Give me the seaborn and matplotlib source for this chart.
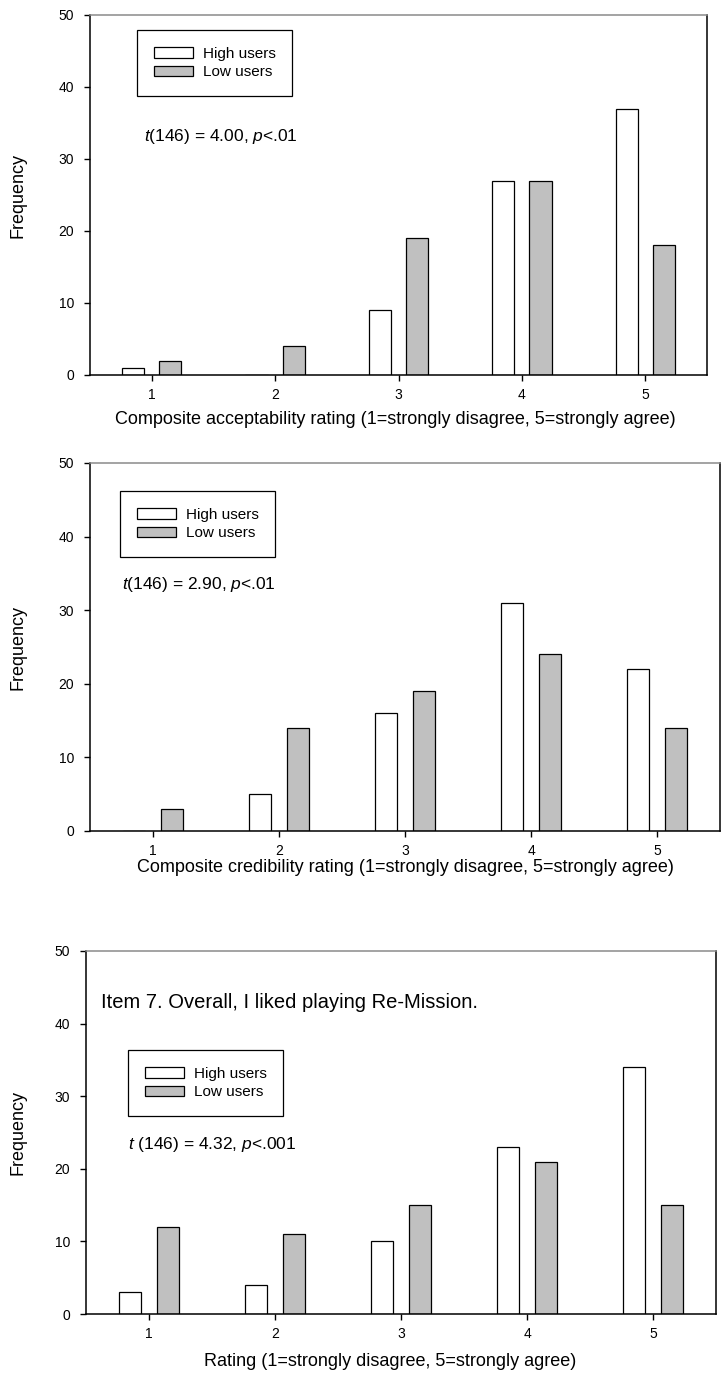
import matplotlib
matplotlib.use("Agg")
import matplotlib.pyplot as plt
import seaborn as sns
import pandas as pd

# Ratings on the 1-5 scale
ratings = [1, 2, 3, 4, 5]
groups = ["High users", "Low users"]

# Frequencies per rating for each group
acceptability_high = [1, 0, 9, 27, 37]
acceptability_low = [2, 4, 19, 27, 18]
credibility_high = [0, 5, 16, 31, 22]
credibility_low = [3, 14, 19, 24, 14]
item7_high = [3, 4, 10, 23, 34]
item7_low = [12, 11, 15, 21, 15]

y_ticks = [0, 10, 20, 30, 40, 50]

xlabels = [
    "Composite acceptability rating (1=strongly disagree, 5=strongly agree)",
    "Composite credibility rating (1=strongly disagree, 5=strongly agree)",
    "Rating (1=strongly disagree, 5=strongly agree)",
]
stats_texts = [
    r"$\mathit{t}$(146) = 4.00, $\mathit{p}$<.01",
    r"$\mathit{t}$(146) = 2.90, $\mathit{p}$<.01",
    r"$\mathit{t}$ (146) = 4.32, $\mathit{p}$<.001",
]
item_title = "Item 7. Overall, I liked playing Re-Mission."

sns.set_theme(style="white")
plt.rcParams["font.family"] = ["Liberation Sans", "DejaVu Sans"]
plt.rcParams["mathtext.fontset"] = "custom"
plt.rcParams["mathtext.rm"] = "Liberation Sans"
plt.rcParams["mathtext.it"] = "Liberation Sans:italic"

W, H = 727, 1378
fig = plt.figure(figsize=(W / 100, H / 100), dpi=100)


def px_axes(left, right, top, bottom):
    return fig.add_axes([left / W, 1 - bottom / H, (right - left) / W, (bottom - top) / H])


panels = [
    dict(box=(90, 707, 15, 375), high=acceptability_high, low=acceptability_low,
         legend=(137, 30), stats=(144, 137), xlab=(395, 420), title=None),
    dict(box=(90, 720, 463, 831), high=credibility_high, low=credibility_low,
         legend=(120, 491), stats=(122, 585), xlab=(405, 868), title=None),
    dict(box=(86, 716, 951, 1314), high=item7_high, low=item7_low,
         legend=(128, 1050), stats=(128, 1145), xlab=(390, 1362), title=(101, 1003)),
]

palette = {"High users": "white", "Low users": "#c0c0c0"}

for i, p in enumerate(panels):
    left, right, top, bottom = p["box"]
    ax = px_axes(left, right, top, bottom)
    aw, ah = right - left, bottom - top

    df = pd.DataFrame({
        "rating": ratings * 2,
        "freq": p["high"] + p["low"],
        "group": [groups[0]] * 5 + [groups[1]] * 5,
    })
    sns.barplot(data=df, x="rating", y="freq", hue="group", hue_order=groups,
                native_scale=True, width=0.6, gap=0.4, palette=palette,
                edgecolor="black", linewidth=0.9, errorbar=None, ax=ax)

    ax.set_xlim(0.5, 5.5)
    ax.set_ylim(0, 50)
    ax.set_xticks(ratings)
    ax.set_xticklabels([str(r) for r in ratings])
    ax.set_yticks(y_ticks)
    ax.tick_params(axis="both", which="both", direction="out", length=4.5,
                   width=1.0, color="black", labelsize=10, labelcolor="black",
                   bottom=True, left=True)
    ax.tick_params(axis="x", pad=5)
    ax.tick_params(axis="y", pad=7)

    for side in ["left", "bottom", "right"]:
        ax.spines[side].set_color("black")
        ax.spines[side].set_linewidth(1.1)
    ax.spines["top"].set_color("#8a8a8a")
    ax.spines["top"].set_linewidth(1.1)

    ax.set_ylabel("Frequency", fontsize=13, color="black")
    ax.yaxis.set_label_coords((18 - left) / aw, 0.5)
    ax.yaxis.label.set_va("center")
    xx, xy = p["xlab"]
    ax.set_xlabel(xlabels[i], fontsize=13, color="black")
    ax.xaxis.set_label_coords((xx - left) / aw, -(xy - bottom) / ah)
    ax.xaxis.label.set_va("center")

    lx, ly = p["legend"]
    handles, labels = ax.get_legend_handles_labels()
    leg = ax.legend(handles, labels, loc="upper left",
                    bbox_to_anchor=((lx - left) / aw, 1 - (ly - top) / ah),
                    borderaxespad=0, fontsize=11, frameon=True, fancybox=False,
                    edgecolor="black", framealpha=1, handlelength=2.55,
                    handleheight=0.65, handletextpad=0.65, labelspacing=0.28,
                    borderpad=1.1)
    leg.get_frame().set_linewidth(0.9)
    for t in leg.get_texts():
        t.set_color("black")

    sx, sy = p["stats"]
    ax.text((sx - left) / aw, 1 - (sy - top) / ah, stats_texts[i],
            transform=ax.transAxes, fontsize=12.5, va="center", ha="left", color="black")

    if p["title"] is not None:
        tx, ty = p["title"]
        ax.text((tx - left) / aw, 1 - (ty - top) / ah, item_title,
                transform=ax.transAxes, fontsize=14.5, va="center", ha="left", color="black")

fig.savefig("out.png", dpi=100)
